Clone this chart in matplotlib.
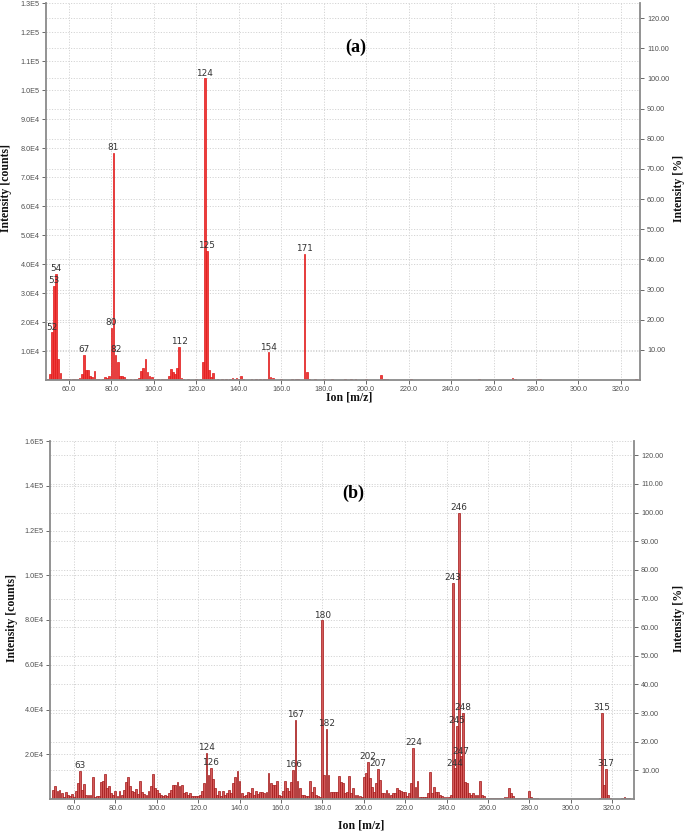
import matplotlib
matplotlib.use("Agg")
import matplotlib.pyplot as plt
from matplotlib.ticker import FixedLocator, FuncFormatter

# ---------------- data: panel (a) ----------------
mz_a = [50, 51, 52, 53, 54, 55, 56, 57, 58, 59, 60, 62, 63, 64, 65, 66, 67, 68, 69, 70,
        71, 72, 73, 74, 76, 77, 78, 79, 80, 81, 82, 83, 84, 85, 86, 87, 89, 91, 92, 93,
        94, 95, 96, 97, 98, 99, 100, 102, 104, 105, 106, 107, 108, 109, 110, 111, 112, 113, 114, 116,
        120, 122, 123, 124, 125, 126, 127, 128, 130, 132, 134, 136, 137, 138, 139, 140, 141, 142, 146, 148,
        150, 152, 153, 154, 155, 156, 160, 165, 167, 168, 171, 172, 173, 176, 180, 184, 190, 193, 195, 200,
        207, 208, 209, 210, 221, 253, 269, 270, 281, 282, 327]
int_a = [200, 2000, 16400, 32400, 36500, 7400, 2500, 500, 300, 200, 300, 200, 300, 500, 600, 2000, 8700, 3300, 3300, 1400,
         1000, 3000, 500, 300, 500, 1000, 700, 1500, 18000, 78300, 8600, 6300, 1400, 1400, 1000, 400, 300, 500, 300, 800,
         3000, 4000, 7100, 2800, 1400, 1000, 500, 300, 300, 500, 500, 1400, 3700, 2600, 2000, 4000, 11500, 800, 500, 300,
         300, 500, 6300, 104000, 44600, 3300, 1000, 2500, 300, 300, 300, 400, 600, 500, 600, 400, 1300, 300, 300, 300,
         300, 400, 300, 9500, 1100, 600, 300, 200, 300, 300, 43400, 2900, 500, 200, 300, 200, 200, 500, 200, 200,
         1700, 500, 400, 300, 200, 200, 600, 300, 500, 300, 300]
labels_a = [52, 53, 54, 67, 80, 81, 82, 112, 124, 125, 154, 171]

# ---------------- data: panel (b) ----------------
mz_b = list(range(50, 331))
int_b = [
    3900, 5700, 3400, 4200, 2700, 700, 3000, 1900, 1200, 2200,            # 50-59
    700, 3400, 7100, 12700, 4200, 6800, 1900, 1600, 1600, 10000,           # 60-69
    700, 1200, 1200, 7400, 7900, 11000, 4900, 5700, 2700, 1600,            # 70-79
    3400, 1200, 3400, 1900, 4200, 7400, 9700, 6000, 3700, 3000,            # 80-89
    4500, 2200, 8200, 3000, 2400, 1900, 3700, 5700, 11300, 4900,           # 90-99
    3900, 2700, 1600, 1200, 1600, 1200, 2700, 4200, 6400, 6400,            # 100-109
    7400, 5700, 6400, 2700, 3000, 1900, 2700, 1200, 1200, 1200,            # 110-119
    1200, 1900, 3400, 7100, 20500, 10900, 13800, 8900, 4900, 1900,         # 120-129
    3400, 1200, 3400, 1900, 2700, 4200, 2700, 7100, 10000, 12300,          # 130-139
    7900, 2700, 1500, 1900, 3000, 2700, 4900, 1900, 3400, 2400,            # 140-149
    3000, 3100, 2700, 3000, 11600, 7100, 6400, 6400, 7900, 1600,           # 150-159
    1200, 3700, 8200, 4800, 3700, 7700, 13000, 35300, 8000, 4800,          # 160-169
    1800, 1800, 1300, 1300, 7900, 3300, 5200, 1800, 1300, 1000,            # 170-179
    79900, 10700, 31500, 10700, 3300, 3100, 3000, 3000, 10400, 7700,       # 180-189
    7300, 2500, 3300, 10300, 2500, 4800, 1800, 1600, 1300, 1000,           # 190-199
    9700, 11800, 16500, 9200, 5200, 3300, 7000, 13400, 8500, 2800,         # 200-209
    2500, 4000, 2500, 1800, 2500, 2500, 4800, 4000, 3700, 3300,            # 210-219
    3300, 1300, 2500, 7000, 22900, 5500, 8000, 1000, 1000, 700,            # 220-229
    1000, 2500, 11900, 2500, 5500, 3300, 3300, 1800, 1300, 700,            # 230-239
    700, 1000, 1800, 96500, 13700, 32700, 128000, 19000, 38500, 7700,      # 240-249
    7000, 2500, 1800, 2500, 1800, 1800, 8200, 1800, 1300, 500,             # 250-259
    400, 300, 300, 300, 300, 400, 400, 500, 800, 1000,                     # 260-269
    5000, 2500, 1300, 500, 300, 300, 300, 300, 300, 400,                   # 270-279
    3700, 1000, 500, 300, 300, 200, 200, 200, 200, 200,                    # 280-289
    200, 200, 200, 200, 200, 200, 200, 200, 200, 200,                      # 290-299
    200, 200, 200, 200, 200, 200, 200, 200, 200, 200,                      # 300-309
    200, 200, 200, 200, 300, 38500, 6300, 13400, 1800, 300,                # 310-319
    200, 200, 200, 200, 200, 500, 700, 600, 400, 200,                      # 320-329
    100,                                                                   # 330
]
labels_b = [63, 124, 126, 166, 167, 180, 182, 202, 207, 224, 243, 244, 245, 246, 247, 248, 315, 317]

xticks = [60, 80, 100, 120, 140, 160, 180, 200, 220, 240, 260, 280, 300, 320]
pct_ticks = [10, 20, 30, 40, 50, 60, 70, 80, 90, 100, 110, 120]
yticks_a = [1e4, 2e4, 3e4, 4e4, 5e4, 6e4, 7e4, 8e4, 9e4, 1e5, 1.1e5, 1.2e5, 1.3e5]
yticks_b = [2e4, 4e4, 6e4, 8e4, 1e5, 1.2e5, 1.4e5, 1.6e5]

W, H = 685, 836
fig = plt.figure(figsize=(W / 100, H / 100), dpi=100)

SPINE = "#8a8a8a"
GRID = "#d4d4d4"
TICKC = "#505050"
TICKFONT = "Liberation Sans"
SERIF = "Liberation Serif"


def sci_fmt(v, pos=None):
    if v <= 0:
        return ""
    exp = 0
    m = v
    while m >= 10:
        m /= 10.0
        exp += 1
    return f"{m:.1f}E{exp}"


def make_panel(rect_px, mz, inten, labels, xlim, ymax, yticks, base,
               facecolor, edgecolor, width):
    left, top, right, bottom = rect_px
    ax = fig.add_axes([left / W, 1 - bottom / H, (right - left) / W, (bottom - top) / H])
    ax.set_xlim(*xlim)
    ax.set_ylim(0, ymax)
    # grid
    gkw = dict(color=GRID, lw=0.7, ls=(0, (1.2, 1.6)), zorder=0)
    for yv in yticks:
        ax.axhline(yv, **gkw)
    for p in pct_ticks:
        ax.axhline(p * base / 100.0, **gkw)
    for xv in xticks:
        ax.axvline(xv, **gkw)
    ax.bar(mz, inten, width=width, color=facecolor, edgecolor=edgecolor,
           linewidth=0.5, zorder=2)
    lookup = dict(zip(mz, inten))
    for lab in labels:
        ax.annotate(str(lab), (lab, lookup[lab]), xytext=(0, 0.5),
                    textcoords="offset points", ha="center", va="bottom",
                    fontsize=6.4, color="#333333", family="DejaVu Sans", zorder=3)
    ax.set_xticks(xticks)
    ax.xaxis.set_major_formatter(FuncFormatter(lambda v, p: f"{v:.1f}"))
    ax.yaxis.set_major_locator(FixedLocator(yticks))
    ax.yaxis.set_major_formatter(FuncFormatter(sci_fmt))
    for s in ["top", "right"]:
        ax.spines[s].set_visible(False)
    for s in ["left", "bottom"]:
        ax.spines[s].set_color(SPINE)
        ax.spines[s].set_linewidth(1.3)
    ax.tick_params(axis="both", which="major", length=3, width=0.6, color=TICKC,
                   labelsize=5.2, labelcolor=TICKC, pad=1.5)
    for t in ax.get_xticklabels() + ax.get_yticklabels():
        t.set_fontfamily(TICKFONT)

    ax2 = ax.twinx()
    ax2.set_ylim(0, ymax / base * 100.0)
    ax2.set_yticks(pct_ticks)
    ax2.yaxis.set_major_formatter(FuncFormatter(lambda v, p: f"{v:.2f}"))
    for s in ["top", "left", "bottom"]:
        ax2.spines[s].set_visible(False)
    ax2.spines["right"].set_color(SPINE)
    ax2.spines["right"].set_linewidth(1.3)
    ax2.tick_params(axis="y", length=3, width=0.6, color=TICKC, labelsize=5.2,
                    labelcolor=TICKC, pad=2)
    for t in ax2.get_yticklabels():
        t.set_fontfamily(TICKFONT)
    return ax


# panel (a)
make_panel((46, 3, 640, 380), mz_a, int_a, labels_a, (49.2, 329.0), 1.3e5,
           yticks_a, 104000, "#ee3b3b", "#e01818", 0.8)
# panel (b)
make_panel((50, 441, 634, 799), mz_b, int_b, labels_b, (48.4, 330.6), 1.6e5,
           yticks_b, 128000, "#d45a5a", "#a01515", 0.9)


def ftext(x, y, s, **kw):
    fig.text(x / W, 1 - y / H, s, **kw)


lab_kw = dict(family=SERIF, fontweight="bold", fontsize=8.5, color="#111111",
              ha="center", va="center")
ftext(6, 188, "Intensity [counts]", rotation=90, **lab_kw)
ftext(679, 188, "Intensity [%]", rotation=90, **lab_kw)
ftext(349, 398, "Ion [m/z]", **lab_kw)
ftext(12, 618, "Intensity [counts]", rotation=90, **lab_kw)
ftext(679, 618, "Intensity [%]", rotation=90, **lab_kw)
ftext(361, 825, "Ion [m/z]", **lab_kw)

ftext(356, 47, "(a)", family=SERIF, fontweight="bold", fontsize=13, ha="center", va="center")
ftext(353, 493, "(b)", family=SERIF, fontweight="bold", fontsize=13, ha="center", va="center")

fig.savefig("out.png", dpi=100)
